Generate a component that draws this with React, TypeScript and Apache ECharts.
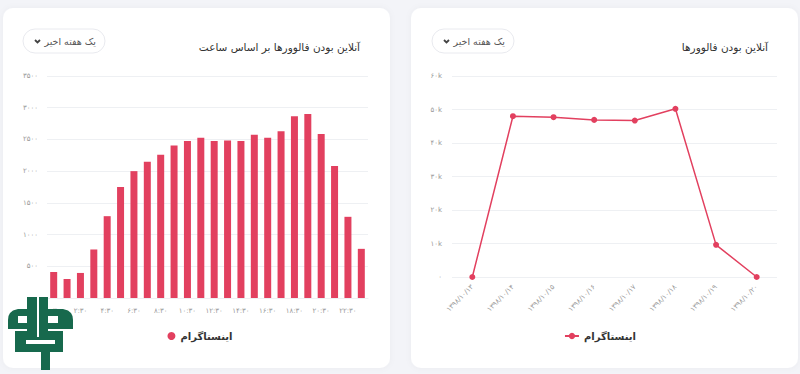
import React, { useEffect, useRef } from 'react';
import * as echarts from 'echarts';

const hourCategories = [
  '۰:۳۰', '۱:۳۰', '۲:۳۰', '۳:۳۰', '۴:۳۰', '۵:۳۰', '۶:۳۰', '۷:۳۰',
  '۸:۳۰', '۹:۳۰', '۱۰:۳۰', '۱۱:۳۰', '۱۲:۳۰', '۱۳:۳۰', '۱۴:۳۰', '۱۵:۳۰',
  '۱۶:۳۰', '۱۷:۳۰', '۱۸:۳۰', '۱۹:۳۰', '۲۰:۳۰', '۲۱:۳۰', '۲۲:۳۰', '۲۳:۳۰',
];
const hourlyFollowers = [
  410, 300, 395, 765, 1290, 1750, 2000, 2150, 2260, 2405, 2475, 2525,
  2475, 2485, 2475, 2575, 2525, 2630, 2865, 2900, 2585, 2080, 1280, 775,
];
const dateCategories = [
  '۱۳۹۸/۱۰/۱۳', '۱۳۹۸/۱۰/۱۴', '۱۳۹۸/۱۰/۱۵', '۱۳۹۸/۱۰/۱۶',
  '۱۳۹۸/۱۰/۱۷', '۱۳۹۸/۱۰/۱۸', '۱۳۹۸/۱۰/۱۹', '۱۳۹۸/۱۰/۲۰',
];
const dailyFollowers = [0, 48000, 47700, 46900, 46700, 50200, 9600, 0];
const seriesName = 'اینستاگرام';
const leftTitle = 'آنلاین بودن فالوورها بر اساس ساعت';
const rightTitle = 'آنلاین بودن فالوورها';
const rangeLabel = 'یک هفته اخیر';

const FONT = "'DejaVu Sans', 'Noto Sans', sans-serif";
const RED = '#e2405f';
const GREEN = '#17694d';
const PAGE_BG = '#f3f4f8';

const toFa = (s: string | number) =>
  String(s).replace(/\d/g, (d) => '۰۱۲۳۴۵۶۷۸۹'[Number(d)]);

function cardGraphics(cx: number, cw: number, btnX: number) {
  return [
    {
      type: 'rect', z: -5, silent: true,
      shape: { x: cx, y: 8, width: cw, height: 360, r: 10 },
      style: { fill: '#ffffff', shadowBlur: 6, shadowColor: 'rgba(0,0,0,0.04)' },
    },
    {
      type: 'rect', z: 5,
      shape: { x: btnX, y: 29, width: 82, height: 24, r: 12 },
      style: { fill: '#ffffff', stroke: '#e9eaef', lineWidth: 1 },
    },
    {
      type: 'text', z: 6,
      x: btnX + 73, y: 41,
      style: { text: rangeLabel, align: 'right', verticalAlign: 'middle', fontSize: 9.5, fill: '#555', fontFamily: FONT },
    },
    {
      type: 'polyline', z: 6,
      shape: { points: [[btnX + 12, 40], [btnX + 14.5, 42.5], [btnX + 17, 40]] },
      style: { stroke: '#444', lineWidth: 1.8, fill: 'none' },
    },
  ];
}

function logoGraphics() {
  const g = { fill: GREEN };
  const w = { fill: '#ffffff' };
  return [
    // two top bars
    { type: 'rect', z: 100, shape: { x: 27, y: 297, width: 10, height: 34 }, style: g },
    { type: 'rect', z: 100, shape: { x: 39, y: 297, width: 9, height: 34 }, style: g },
    // left wing
    {
      type: 'polygon', z: 100,
      shape: {
        points: [[27, 309], [18, 309], [13, 310.5], [10, 313], [8.5, 316], [8, 320], [8, 329], [37, 329], [37, 331], [27, 331]],
      },
      style: g,
    },
    { type: 'rect', z: 101, shape: { x: 18, y: 316, width: 9, height: 7 }, style: w },
    // right wing
    {
      type: 'polygon', z: 100,
      shape: {
        points: [[48, 309], [63, 309], [68, 310.5], [71, 313], [72.5, 316], [73, 320], [73, 329], [39, 329], [39, 331], [48, 331]],
      },
      style: g,
    },
    { type: 'rect', z: 101, shape: { x: 48, y: 316, width: 10, height: 7 }, style: w },
    // lower block
    { type: 'rect', z: 100, shape: { x: 15, y: 331, width: 48, height: 21 }, style: g },
    { type: 'rect', z: 101, shape: { x: 37, y: 329, width: 2, height: 8 }, style: w },
    { type: 'rect', z: 101, shape: { x: 26, y: 340, width: 29, height: 4 }, style: w },
    // stem
    { type: 'rect', z: 100, shape: { x: 41, y: 351, width: 9, height: 19 }, style: g },
  ];
}

function leftOption(): any {
  return {
    animation: false,
    backgroundColor: PAGE_BG,
    textStyle: { fontFamily: FONT },
    title: {
      text: leftTitle, right: 40, top: 41, padding: 0,
      textStyle: { fontSize: 10.5, fontWeight: 'normal', color: '#333', fontFamily: FONT },
    },
    graphic: [...cardGraphics(3, 387, 23), ...logoGraphics()],
    legend: {
      data: [{ name: seriesName, icon: 'circle' }],
      left: 'center', top: 326, itemWidth: 8, itemHeight: 8, itemGap: 6,
      textStyle: { fontSize: 10, fontWeight: 'bold', color: '#333', fontFamily: FONT },
    },
    grid: { left: 47, right: 32, top: 76, bottom: 76 },
    xAxis: {
      type: 'category', data: hourCategories,
      axisTick: { show: false },
      axisLine: { lineStyle: { color: '#eef0f3' } },
      axisLabel: { interval: 1, fontSize: 7, color: '#999', margin: 9, fontFamily: FONT },
    },
    yAxis: {
      type: 'value', min: 0, max: 3500, interval: 500,
      axisLabel: { fontSize: 7, color: '#999', margin: 9, formatter: (v: number) => toFa(v), fontFamily: FONT },
      splitLine: { lineStyle: { color: '#eef0f3' } },
    },
    series: [
      {
        name: seriesName, type: 'bar', data: hourlyFollowers,
        barWidth: 7, itemStyle: { color: RED },
      },
    ],
  };
}

function rightOption(): any {
  return {
    animation: false,
    backgroundColor: PAGE_BG,
    textStyle: { fontFamily: FONT },
    title: {
      text: rightTitle, right: 32, top: 41, padding: 0,
      textStyle: { fontSize: 10.5, fontWeight: 'normal', color: '#333', fontFamily: FONT },
    },
    graphic: cardGraphics(11, 387, 32),
    legend: {
      data: [seriesName],
      left: 'center', top: 326, itemWidth: 14, itemHeight: 8, itemGap: 6,
      textStyle: { fontSize: 10, fontWeight: 'bold', color: '#333', fontFamily: FONT },
    },
    grid: { left: 52, right: 23, top: 76, bottom: 97 },
    xAxis: {
      type: 'category', data: dateCategories, boundaryGap: true,
      axisTick: { show: false },
      axisLine: { show: false },
      axisLabel: { interval: 0, rotate: 45, fontSize: 7, color: '#999', margin: 9, fontFamily: FONT },
    },
    yAxis: {
      type: 'value', min: 0, max: 60000, interval: 10000,
      axisLabel: {
        fontSize: 7, color: '#999', margin: 10, fontFamily: FONT,
        formatter: (v: number) => (v === 0 ? toFa(0) : toFa(v / 1000) + 'k'),
      },
      splitLine: { lineStyle: { color: '#eef0f3' } },
    },
    series: [
      {
        name: seriesName, type: 'line', data: dailyFollowers,
        symbol: 'circle', symbolSize: 6,
        lineStyle: { color: RED, width: 1.5 },
        itemStyle: { color: RED },
      },
    ],
  };
}

function ChartBox({ left, option }: { left: number; option: any }) {
  const ref = useRef<HTMLDivElement>(null);
  useEffect(() => {
    if (!ref.current) return;
    const chart = echarts.init(ref.current, undefined, { renderer: 'svg' });
    chart.setOption(option);
    return () => chart.dispose();
  }, [option]);
  return (
    <div
      ref={ref}
      style={{ position: 'fixed', left, top: 0, width: 400, height: 374 }}
    />
  );
}

const leftOpt = leftOption();
const rightOpt = rightOption();

export default function App() {
  return (
    <div style={{ position: 'fixed', left: 0, top: 0, width: 800, height: 374, background: PAGE_BG }}>
      <ChartBox left={0} option={leftOpt} />
      <ChartBox left={400} option={rightOpt} />
    </div>
  );
}
